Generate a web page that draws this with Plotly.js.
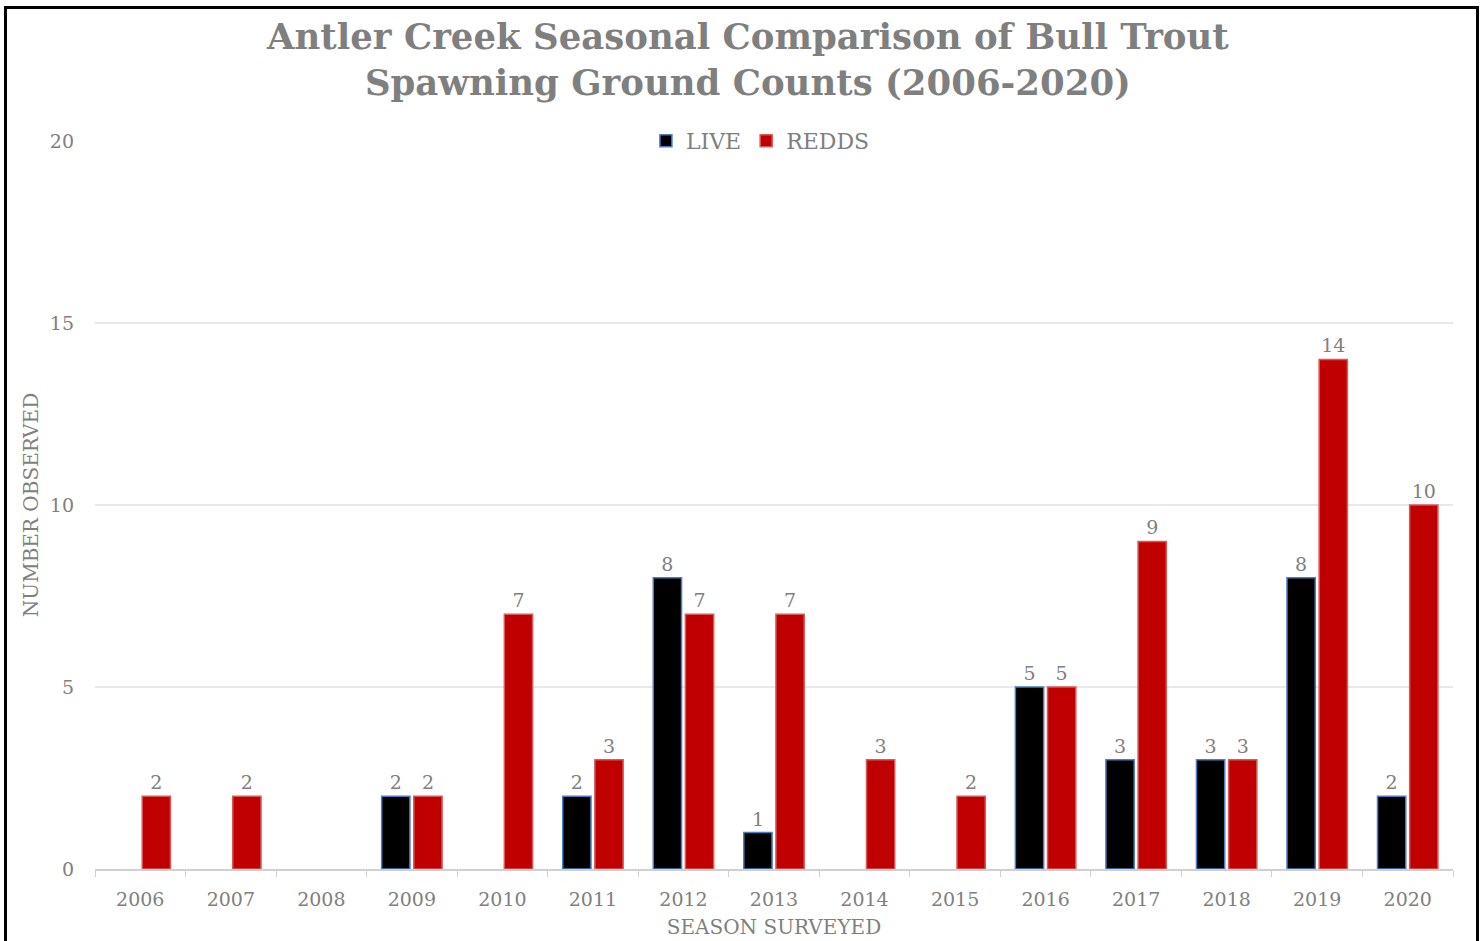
<!DOCTYPE html>
<html>
<head>
<meta charset="utf-8">
<script src="https://cdn.plot.ly/plotly-3.0.1.min.js"></script>
<style>
  html, body { margin: 0; padding: 0; background: #fff; overflow: hidden; }
  #chart { position: absolute; left: 0; top: 0; width: 1481px; height: 941px; }
  #frame { position: absolute; left: 4px; top: 6px; width: 1469px; height: 960px;
           border: 3px solid #000; pointer-events: none; }
</style>
</head>
<body>
<div id="chart"></div>
<div id="frame"></div>
<script>
const seasons = ['2006','2007','2008','2009','2010','2011','2012','2013','2014','2015','2016','2017','2018','2019','2020'];
const liveCounts  = [0, 0, 0, 2, 0, 2, 8, 1, 0, 0, 5, 3, 3, 8, 2];
const reddCounts  = [2, 2, 0, 2, 7, 3, 7, 7, 3, 2, 5, 9, 3, 14, 10];
const yTicks = [0, 5, 10, 15, 20];

const nz = v => v.map(x => x === 0 ? null : x);
const lbl = v => v.map(x => x === 0 ? '' : String(x));

const serif = 'DejaVu Serif, Liberation Serif, serif';
const gray = '#7f7f7f';

const traces = [
  {
    type: 'bar', name: 'LIVE', x: seasons, y: nz(liveCounts),
    text: lbl(liveCounts), textposition: 'outside', cliponaxis: false,
    textfont: {family: serif, size: 19, color: gray},
    marker: {color: '#000000', line: {color: '#4a7ec2', width: 1.5}},
    hoverinfo: 'x+y'
  },
  {
    type: 'bar', name: 'REDDS', x: seasons, y: nz(reddCounts),
    text: lbl(reddCounts), textposition: 'outside', cliponaxis: false,
    textfont: {family: serif, size: 19, color: gray},
    marker: {color: '#c00000', line: {color: '#d65a5a', width: 1.5}},
    hoverinfo: 'x+y'
  }
];

const layout = {
  width: 1481, height: 941,
  paper_bgcolor: '#ffffff', plot_bgcolor: '#ffffff',
  margin: {l: 95, r: 28, t: 141, b: 72},
  title: {
    text: '<b>Antler Creek Seasonal Comparison of Bull Trout<br>Spawning Ground Counts (2006-2020)</b>',
    font: {family: serif, size: 35.5, color: gray},
    x: 0.505, xanchor: 'center', yref: 'container', y: 0.948, yanchor: 'top'
  },
  barmode: 'group', bargap: 0.29, bargroupgap: 0.12,
  showlegend: true,
  legend: {
    orientation: 'h', x: 0.49, xanchor: 'center', y: 1.0, yanchor: 'middle',
    bgcolor: '#ffffff', font: {family: serif, size: 22, color: gray},
    itemwidth: 30, traceorder: 'normal', itemclick: false
  },
  xaxis: {
    type: 'category', categoryorder: 'array', categoryarray: seasons,
    tickson: 'boundaries', ticks: 'outside', ticklen: 6, tickcolor: '#d0d0d0',
    showline: true, linecolor: '#d0d0d0', linewidth: 1.5,
    showgrid: false, ticklabelstandoff: 12,
    tickfont: {family: serif, size: 19, color: gray},
    title: {text: 'SEASON SURVEYED', font: {family: serif, size: 20, color: gray}, standoff: 11}
  },
  yaxis: {
    range: [0, 20], tickvals: yTicks, ticktext: yTicks.map(String),
    showgrid: true, gridcolor: '#e8e8e8', gridwidth: 1.5,
    zeroline: false, showline: false, ticks: '',
    ticklabelstandoff: 20,
    tickfont: {family: serif, size: 19, color: gray},
    title: {text: 'NUMBER OBSERVED', font: {family: serif, size: 20, color: gray}, standoff: 5}
  }
};

Plotly.newPlot('chart', traces, layout, {displayModeBar: false});
</script>
</body>
</html>
